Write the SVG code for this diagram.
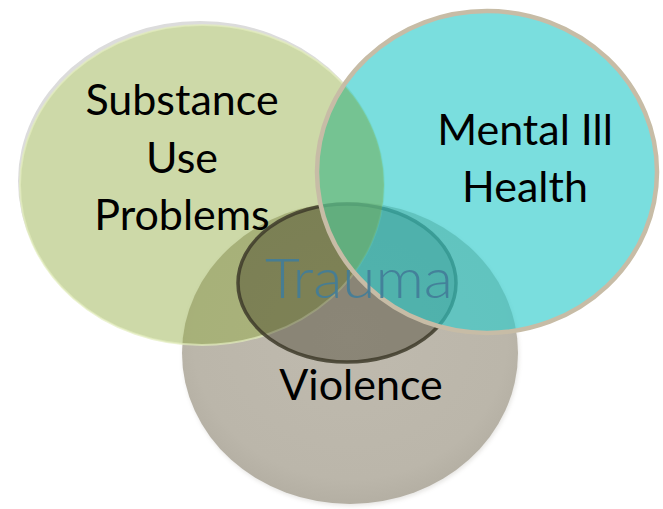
<svg xmlns="http://www.w3.org/2000/svg" width="663" height="509" viewBox="0 0 663 509">
  <defs>
    <clipPath id="cyanClip">
      <ellipse cx="487" cy="172" rx="170" ry="161"/>
    </clipPath>
    <filter id="soft" x="-10%" y="-10%" width="120%" height="120%">
      <feGaussianBlur stdDeviation="2"/>
    </filter>
    <radialGradient id="greyFill" cx="50%" cy="45%" r="55%">
      <stop offset="0" stop-color="#bfbaae"/>
      <stop offset="0.85" stop-color="#bbb6aa"/>
      <stop offset="1" stop-color="#b4afa3"/>
    </radialGradient>
  </defs>
  <style>
    .label { font-family: Lato, "Open Sans", "Liberation Sans", sans-serif; font-size: 43px; fill: #000; text-anchor: middle; }
    .trauma { font-family: Lato, "Open Sans", "Liberation Sans", sans-serif; font-weight: 300; font-size: 56px; fill: #427d98; fill-opacity: 0.92; text-anchor: middle; }
  </style>
  <rect width="663" height="509" fill="#ffffff"/>

  <!-- Violence: bottom circle -->
  <g id="violence">
    <ellipse cx="200" cy="181" rx="182" ry="160" fill="#dcdcdc"/>
    <ellipse cx="202" cy="185" rx="182" ry="160" fill="#ffffff"/>
    <ellipse cx="351" cy="355" rx="168" ry="151" fill="#8c877c" opacity="0.22" filter="url(#soft)"/>
    <ellipse cx="350" cy="353" rx="168" ry="151" fill="url(#greyFill)"/>
  </g>

  <!-- Substance Use Problems: green circle -->
  <g id="substance">
    <ellipse cx="202" cy="185" rx="182" ry="160" fill="#90ab3e" fill-opacity="0.45" stroke="#e2ecbe" stroke-opacity="0.7" stroke-width="2"/>
  </g>

  <!-- Trauma: central shaded ring -->
  <g id="trauma">
    <ellipse cx="347" cy="283" rx="109" ry="79" fill="#2a2410" fill-opacity="0.35" stroke="#3e3b2a" stroke-opacity="0.85" stroke-width="3.5"/>
  </g>

  <!-- Mental Ill Health: cyan circle -->
  <g id="mental">
    <ellipse cx="487" cy="172" rx="170" ry="161" fill="#2fcbcb" fill-opacity="0.64"/>
    <ellipse cx="202" cy="185" rx="182" ry="160" fill="#90ab3e" fill-opacity="0.35" clip-path="url(#cyanClip)"/>
    <ellipse cx="487" cy="172" rx="170" ry="161" fill="none" stroke="#c7bca6" stroke-width="4.5"/>
  </g>

  <!-- Labels -->
  <g id="labels">
    <text class="label" x="182" y="115">Substance</text>
    <text class="label" x="182" y="173">Use</text>
    <text class="label" x="182" y="230">Problems</text>
    <text class="label" x="525" y="145">Mental Ill</text>
    <text class="label" x="525" y="202">Health</text>
    <text class="label" x="361" y="400">Violence</text>
    <text class="trauma" x="359" y="298" textLength="188" lengthAdjust="spacingAndGlyphs">Trauma</text>
  </g>
</svg>
